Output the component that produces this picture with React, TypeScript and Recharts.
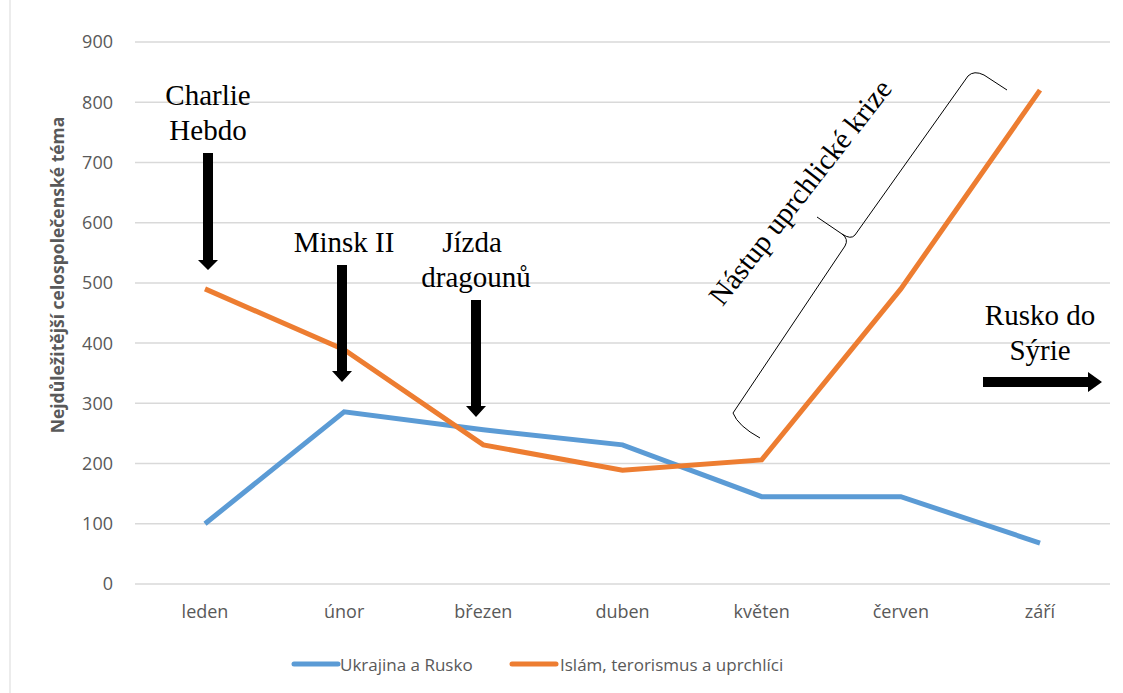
import React from "react";
import { LineChart, Line, XAxis, YAxis, CartesianGrid } from "recharts";

const months = ["leden", "únor", "březen", "duben", "květen", "červen", "září"];
const ukrajina = [100, 286, 256, 231, 145, 145, 68];
const islam = [490, 389, 231, 189, 206, 490, 820];
const yTicks = [0, 100, 200, 300, 400, 500, 600, 700, 800, 900];
const seriesNames = ["Ukrajina a Rusko", "Islám, terorismus a uprchlíci"];
const seriesColors = ["#5b9bd5", "#ed7d31"];
const axisTitle = "Nejdůležitější celospolečenské téma";

const data = months.map((m, i) => ({ month: m, ukr: ukrajina[i], isl: islam[i] }));

const SANS = "'Open Sans', 'Liberation Sans', sans-serif";
const SERIF = "'Liberation Serif', 'DejaVu Serif', serif";

function DownArrow({ x, top, headStart, tip }: { x: number; top: number; headStart: number; tip: number }) {
  return (
    <path
      d={`M${x - 5},${top} L${x + 5},${top} L${x + 5},${headStart} L${x + 10},${headStart} L${x},${tip} L${x - 10},${headStart} L${x - 5},${headStart} Z`}
      fill="#000"
    />
  );
}

export default function App() {
  return (
    <div style={{ position: "absolute", left: 0, top: 0, width: 1123, height: 693, background: "#fff" }}>
      <LineChart width={1123} height={693} data={data} margin={{ top: 42, right: 13, bottom: 69, left: 0 }}>
        <CartesianGrid vertical={false} stroke="#d9d9d9" strokeWidth={1.5} />
        <XAxis
          dataKey="month"
          height={40}
          axisLine={false}
          tickLine={false}
          tickMargin={15}
          padding={{ left: 70, right: 70 }}
          tick={{ fill: "#595959", fontSize: 18, fontFamily: SANS }}
          interval={0}
        />
        <YAxis
          width={135}
          domain={[0, 900]}
          ticks={yTicks}
          axisLine={false}
          tickLine={false}
          tickMargin={16}
          tick={{ fill: "#595959", fontSize: 18, fontFamily: SANS }}
        />
        <Line
          type="linear"
          dataKey="ukr"
          name={seriesNames[0]}
          stroke={seriesColors[0]}
          strokeWidth={5}
          dot={false}
          isAnimationActive={false}
        />
        <Line
          type="linear"
          dataKey="isl"
          name={seriesNames[1]}
          stroke={seriesColors[1]}
          strokeWidth={5}
          dot={false}
          isAnimationActive={false}
        />
      </LineChart>
      <svg
        width={1123}
        height={693}
        style={{ position: "absolute", left: 0, top: 0, pointerEvents: "none" }}
      >
        <line x1={10} y1={0} x2={10} y2={693} stroke="#d9d9d9" strokeWidth={1} />
        <text
          x={57}
          y={275}
          transform="rotate(-90 57 275)"
          textAnchor="middle"
          dominantBaseline="central"
          fontFamily={SANS}
          fontSize={17.5}
          fontWeight="bold"
          fill="#595959"
        >
          {axisTitle}
        </text>

        {/* Charlie Hebdo */}
        <text x={208} y={105} textAnchor="middle" fontFamily={SERIF} fontSize={29} fill="#000">Charlie</text>
        <text x={208} y={140} textAnchor="middle" fontFamily={SERIF} fontSize={29} fill="#000">Hebdo</text>
        <DownArrow x={208} top={153} headStart={260} tip={270} />

        {/* Minsk II */}
        <text x={344} y={252} textAnchor="middle" fontFamily={SERIF} fontSize={29} fill="#000">Minsk II</text>
        <DownArrow x={342} top={265} headStart={371} tip={382} />

        {/* Jízda dragounů */}
        <text x={472} y={252} textAnchor="middle" fontFamily={SERIF} fontSize={29} fill="#000">Jízda</text>
        <text x={476} y={287} textAnchor="middle" fontFamily={SERIF} fontSize={29} fill="#000">dragounů</text>
        <DownArrow x={476} top={300} headStart={406} tip={417} />

        {/* Rusko do Sýrie */}
        <text x={1040} y={325} textAnchor="middle" fontFamily={SERIF} fontSize={29} fill="#000">Rusko do</text>
        <text x={1040} y={360} textAnchor="middle" fontFamily={SERIF} fontSize={29} fill="#000">Sýrie</text>
        <path d="M983,377 L1088,377 L1088,372 L1102,382 L1088,392 L1088,387 L983,387 Z" fill="#000" />

        {/* Nástup uprchlické krize */}
        <text
          x={800}
          y={192}
          transform="rotate(-52 800 192)"
          textAnchor="middle"
          dominantBaseline="central"
          fontFamily={SERIF}
          fontSize={29}
          fill="#000"
        >
          Nástup uprchlické krize
        </text>
        <path
          d="M760,438 Q738,426 733,413 L845,246 Q849,239 842,234 L817,217 M842,234 Q851,240 855,235 L968,76 Q974,70 984,75 L1007,90"
          fill="none"
          stroke="#000"
          strokeWidth={1}
        />

        {/* Legend */}
        <line x1={294} y1={664} x2={338} y2={664} stroke={seriesColors[0]} strokeWidth={5} strokeLinecap="round" />
        <text x={340} y={664} dominantBaseline="central" fontFamily={SANS} fontSize={17} fill="#595959">{seriesNames[0]}</text>
        <line x1={512} y1={664} x2={556} y2={664} stroke={seriesColors[1]} strokeWidth={5} strokeLinecap="round" />
        <text x={560} y={664} dominantBaseline="central" fontFamily={SANS} fontSize={17} fill="#595959">{seriesNames[1]}</text>
      </svg>
    </div>
  );
}
